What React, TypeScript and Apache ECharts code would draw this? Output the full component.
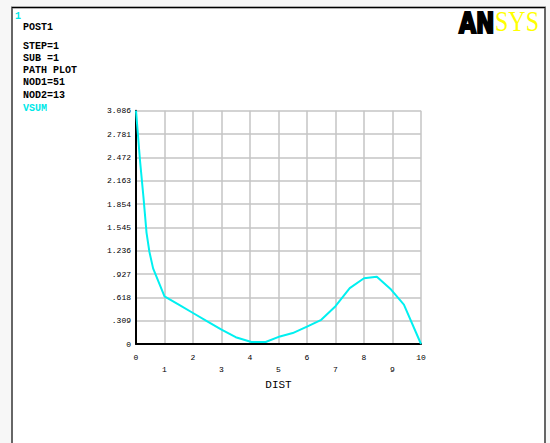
import React, { useEffect, useRef } from "react";
import * as echarts from "echarts";

const distX = [0, 0.14, 0.26, 0.37, 0.47, 0.6, 1.0, 1.5, 2.0, 2.5, 3.0, 3.5, 4.05, 4.55, 5.05, 5.5, 6.0, 6.5, 7.0, 7.5, 8.0, 8.45, 8.95, 9.4, 10];
const vsum = [3.086, 2.43, 1.95, 1.47, 1.22, 1.0, 0.63, 0.52, 0.41, 0.3, 0.19, 0.09, 0.026, 0.026, 0.1, 0.145, 0.23, 0.32, 0.5, 0.74, 0.87, 0.89, 0.72, 0.52, 0];
const yTickLabels = ["0", ".309", ".618", ".927", "1.236", "1.545", "1.854", "2.163", "2.472", "2.781", "3.086"];
const infoLines = ["STEP=1", "SUB =1", "PATH PLOT", "NOD1=51", "NOD2=13"];
const yMax = 3.086;
const yStep = 0.3086;

const MONO = "'Liberation Mono', 'DejaVu Sans Mono', monospace";

export default function App() {
  const ref = useRef<HTMLDivElement>(null);
  useEffect(() => {
    const chart = echarts.init(ref.current!, undefined, { renderer: "svg" });
    const infoY = [46.5, 58.5, 70.5, 82.5, 95.5];
    chart.setOption({
      animation: false,
      backgroundColor: "#f7f7f7",
      grid: { left: 136, right: 129, top: 110.7, bottom: 99, containLabel: false },
      xAxis: {
        type: "value",
        min: 0,
        max: 10,
        interval: 1,
        name: "DIST",
        nameLocation: "middle",
        nameGap: 33,
        nameTextStyle: { fontFamily: MONO, fontSize: 11, color: "#000" },
        axisLine: { show: true, onZero: false, lineStyle: { color: "#000", width: 2 } },
        axisTick: { show: false },
        splitLine: { show: true, lineStyle: { color: "#c4c4c4", width: 1.5 } },
        axisLabel: {
          fontFamily: MONO,
          fontSize: 8,
          color: "#000",
          margin: 7,
          lineHeight: 12,
          formatter: (v: number) => (Math.round(v) % 2 === 1 ? "\n" + Math.round(v) : String(Math.round(v))),
        },
      },
      yAxis: {
        type: "value",
        min: 0,
        max: yMax,
        interval: yStep,
        axisLine: { show: true, onZero: false, lineStyle: { color: "#000", width: 2 } },
        axisTick: { show: false },
        splitLine: { show: true, lineStyle: { color: "#c4c4c4", width: 1.5 } },
        axisLabel: {
          fontFamily: MONO,
          fontSize: 8,
          color: "#000",
          margin: 5,
          showMaxLabel: true,
          formatter: (v: number) => yTickLabels[Math.round(v / yStep)] ?? "",
        },
      },
      series: [
        {
          type: "line",
          data: distX.map((x, i) => [x, vsum[i]]),
          showSymbol: false,
          lineStyle: { color: "#00f0f0", width: 2 },
          z: 5,
        },
      ],
      graphic: [
        { type: "rect", shape: { x: 12, y: 7.5, width: 533, height: 445 }, style: { fill: "#ffffff", stroke: "#666", lineWidth: 2 }, z: -10, silent: true },
        { type: "line", shape: { x1: 12, y1: 7.5, x2: 545, y2: 7.5 }, style: { stroke: "#000", lineWidth: 1 }, z: -9, silent: true },
        { type: "text", x: 15, y: 16, style: { text: "1", font: `bold 10px ${MONO}`, fill: "#00e8e8", verticalAlign: "middle" } },
        { type: "text", x: 23, y: 27.5, style: { text: "POST1", font: `bold 10px ${MONO}`, fill: "#000", verticalAlign: "middle" } },
        ...infoLines.map((t, i) => ({
          type: "text",
          x: 23,
          y: infoY[i],
          style: { text: t, font: `bold 10px ${MONO}`, fill: "#000", verticalAlign: "middle" },
        })),
        { type: "text", x: 23, y: 108.5, style: { text: "VSUM", font: `bold 10px ${MONO}`, fill: "#00e8e8", verticalAlign: "middle" } },
        { type: "text", x: 459, y: 8, scaleX: 0.76, style: { text: "AN", font: "900 29px 'DejaVu Sans', sans-serif", fill: "#000", stroke: "#000", lineWidth: 2.2, verticalAlign: "top" } },
        { type: "text", x: 495, y: 6, scaleX: 0.8, style: { text: "SYS", font: "30px 'Liberation Serif', serif", fill: "#ffff00", verticalAlign: "top" } },
      ],
    });
    return () => chart.dispose();
  }, []);
  return <div ref={ref} style={{ position: "fixed", left: 0, top: 0, width: 550, height: 443 }} />;
}
